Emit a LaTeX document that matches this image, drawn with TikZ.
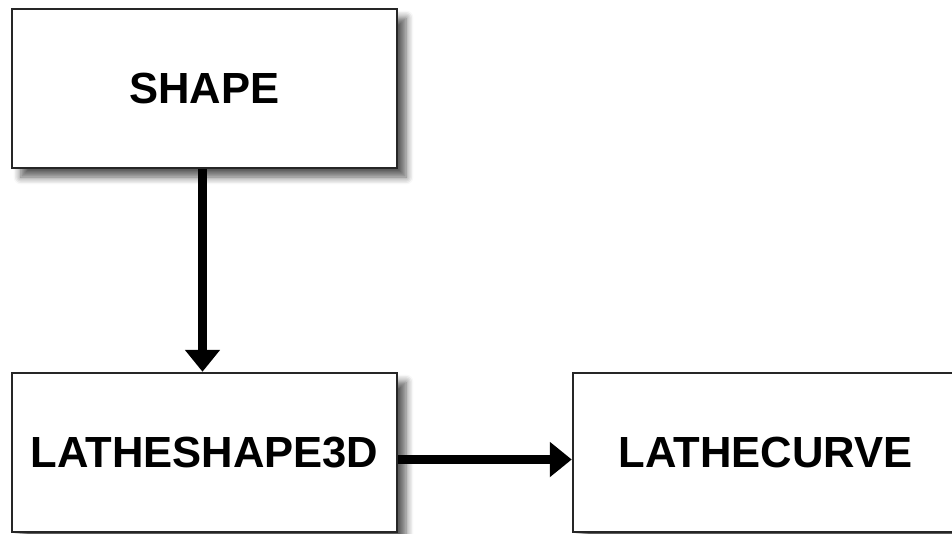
\documentclass[tikz,border=0pt]{standalone}
\usepackage{fontspec}
\setmainfont{Liberation Sans}
\usetikzlibrary{arrows.meta, positioning, shadows.blur}

\begin{document}
\begin{tikzpicture}[
    block/.style={draw=black!85, line width=0.7pt, fill=white, minimum width=3.85cm, minimum height=1.59cm,
        font=\fontsize{12.4}{14}\selectfont\bfseries,
        blur shadow={shadow xshift=0.9mm, shadow yshift=-0.9mm, shadow blur steps=6, shadow opacity=65}},
    flow/.style={-{Triangle[length=2.2mm, width=3.4mm]}, line width=2.4pt}
]
\clip (0,0) rectangle (9.52,5.33);
\useasboundingbox (0,0) rectangle (9.52,5.33);

\node[block] (shape) at (2.045,4.445) {SHAPE};
\node[block] (lathe3d) at (2.045,0.805) {LATHESHAPE3D};
\node[block] (lathecurve) at (7.655,0.805) {LATHECURVE};

\draw[flow] ([xshift=-0.2mm]shape.south) -- ([xshift=-0.2mm]lathe3d.north);
\draw[flow] ([yshift=-0.7mm]lathe3d.east) -- ([yshift=-0.7mm]lathecurve.west);
\end{tikzpicture}
\end{document}
